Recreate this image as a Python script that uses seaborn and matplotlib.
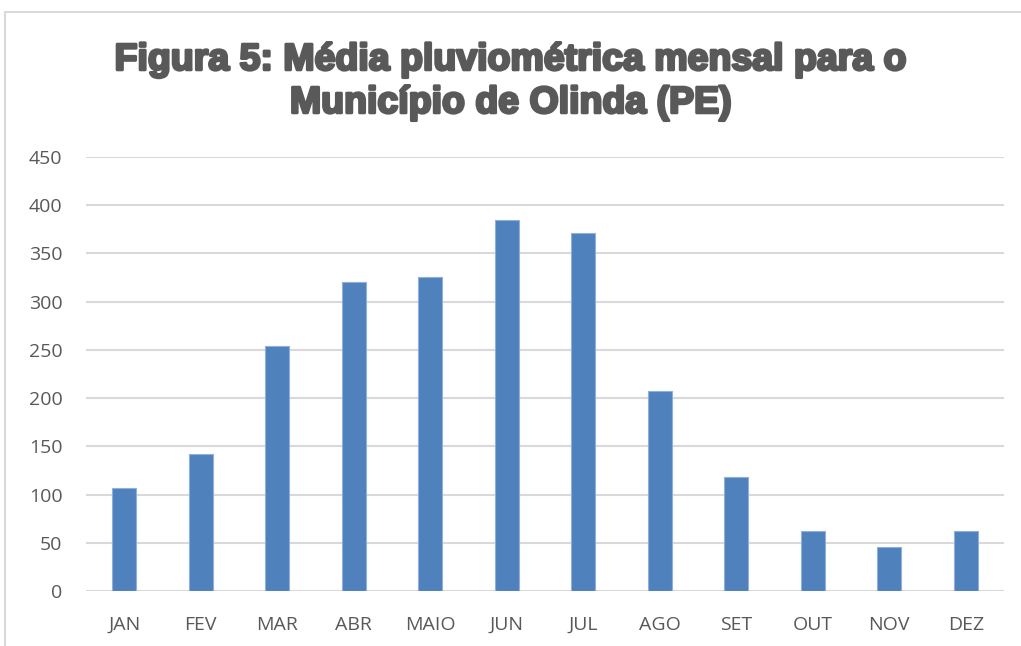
import matplotlib
matplotlib.use("Agg")
import matplotlib.pyplot as plt
import matplotlib.patheffects as pe
from matplotlib import font_manager
import seaborn as sns
import pandas as pd

months = ["JAN", "FEV", "MAR", "ABR", "MAIO", "JUN", "JUL", "AGO", "SET", "OUT", "NOV", "DEZ"]
rainfall = [107, 142, 254, 320, 326, 385, 371, 207, 118, 62, 46, 62]
yticks = [0, 50, 100, 150, 200, 250, 300, 350, 400, 450]
title = "Figura 5: Média pluviométrica mensal para o\nMunicípio de Olinda (PE)"

sns.set_theme(style="white")
names = {f.name for f in font_manager.fontManager.ttflist}
body_font = "Open Sans" if "Open Sans" in names else "DejaVu Sans"
title_font = "Liberation Sans"
plt.rcParams["font.family"] = [body_font, "DejaVu Sans"]

df = pd.DataFrame({"mes": months, "chuva": rainfall})

fig = plt.figure(figsize=(10.21, 6.46), dpi=100)
ax = fig.add_axes([0.0842, 0.0851, 0.8992, 0.6719])
sns.barplot(data=df, x="mes", y="chuva", color="#4F81BD", saturation=1,
            width=0.31, edgecolor="#8FB0DA", linewidth=0.8, ax=ax, zorder=3)

ax.set_ylim(0, 450)
ax.set_yticks(yticks)
ax.set_xlim(-0.5, len(months) - 0.5)
ax.yaxis.grid(True, color="#D9D9D9", linewidth=1.5, zorder=0)
ax.set_axisbelow(True)
for s in ax.spines.values():
    s.set_visible(False)
ax.set_xlabel("")
ax.set_ylabel("")
ax.tick_params(axis="y", length=0, pad=17, labelsize=14, labelcolor="#595959")
ax.tick_params(axis="x", length=0, pad=18, labelsize=14, labelcolor="#595959")

fig.text(0.5, 0.874, title, ha="center", va="center", fontsize=27,
         fontweight="bold", color="#595959", family=[title_font, "DejaVu Sans"],
         linespacing=1.25,
         path_effects=[pe.withStroke(linewidth=2.0, foreground="#595959")])

# outer chart frame
fig.add_artist(plt.Line2D([0.0049, 0.0049], [0.0, 0.9814], color="#D9D9D9",
                          linewidth=1.5, transform=fig.transFigure))
fig.add_artist(plt.Line2D([0.0049, 1.0], [0.9814, 0.9814], color="#D9D9D9",
                          linewidth=1.5, transform=fig.transFigure))

fig.savefig("out.png", dpi=100, facecolor="white")
